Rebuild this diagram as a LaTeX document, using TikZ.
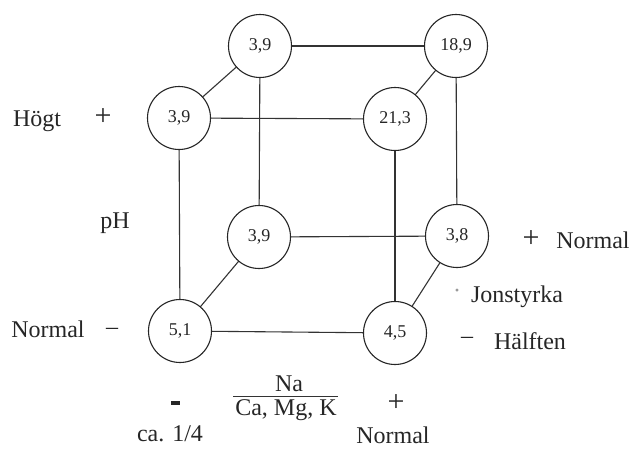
\documentclass[tikz,border=0pt]{standalone}
\usepackage{fontspec}
\setmainfont{Liberation Serif}
\begin{document}
\begin{tikzpicture}[x=1pt,y=-1pt,
  val/.style={circle,draw=black!85,line width=1.1pt,minimum size=63pt,inner sep=0pt,fill=white,
    font=\fontsize{18}{20}\selectfont,text=black!85},
  edge/.style={draw=black!80,line width=1.1pt},
  lbl/.style={inner sep=0pt,font=\fontsize{24}{28}\selectfont,text=black!85},
  bigplus/.style={inner sep=0pt,font=\fontsize{30}{32}\selectfont,text=black!85}]
\useasboundingbox (0,0) rectangle (633,448);
% corner nodes coordinates
\coordinate (pbtl) at (260,46);
\coordinate (pbtr) at (456,46);
\coordinate (pftl) at (179,118);
\coordinate (pftr) at (395,119);
\coordinate (pbbl) at (259,237);
\coordinate (pbbr) at (457,236);
\coordinate (pfbl) at (180,331);
\coordinate (pfbr) at (395,333);
% edges first (drawn under the circles)
\draw[edge,line width=1.7pt] (pbtl) -- (pbtr);
\draw[edge] (pftl) -- (pftr);
\draw[edge] (pbbl) -- (pbbr);
\draw[edge] (pfbl) -- (pfbr);
\draw[edge] (pftl) -- (pfbl);
\draw[edge] (pbtl) -- (pbbl);
\draw[edge] (pftr) -- (pfbr);
\draw[edge] (pbtr) -- (pbbr);
\draw[edge] (pftl) -- (pbtl);
\draw[edge] (pftr) -- (pbtr);
\draw[edge] (pfbl) -- (pbbl);
\draw[edge] (pfbr) -- (pbbr);
% circle nodes
\node[val] (btl) at (pbtl) {3,9};
\node[val] (btr) at (pbtr) {18,9};
\node[val] (ftl) at (pftl) {3,9};
\node[val] (ftr) at (pftr) {21,3};
\node[val] (bbl) at (pbbl) {3,9};
\node[val] (bbr) at (pbbr) {3,8};
\node[val] (fbl) at (pfbl) {5,1};
\node[val] (fbr) at (pfbr) {4,5};
% labels
\node[lbl] (hogt) at (37,121) {Högt};
\node[bigplus] (hplus) at (103,117) {+};
\node[lbl] (ph) at (115,223) {pH};
\node[lbl] (nleft) at (48,329) {Normal};
\node[lbl] (nminus) at (112,331) {–};
\node[lbl] (na) at (289,384) {Na};
\node[lbl] (camgk) at (286,410) {Ca, Mg, K};
\draw[edge,line width=0.9pt] (233,396) -- (338,396);
\node[fill=black!85,minimum width=9pt,minimum height=4pt,inner sep=0pt] (bminus) at (175,403) {};
\node[bigplus] (bplus) at (396,403) {+};
\node[lbl] (ca) at (170,434) {ca. 1/4};
\node[lbl] (nbottom) at (393,435) {Normal};
\node[bigplus] (rplus) at (531,239) {+};
\node[lbl] (rnormal) at (593,240) {Normal};
\node[lbl,text=black!40] (dot) at (457,294) {·};
\node[lbl] (jon) at (517,297) {Jonstyrka};
\node[lbl] (hminus) at (467,340) {–};
\node[lbl] (half) at (530,341) {Hälften};
\end{tikzpicture}
\end{document}
